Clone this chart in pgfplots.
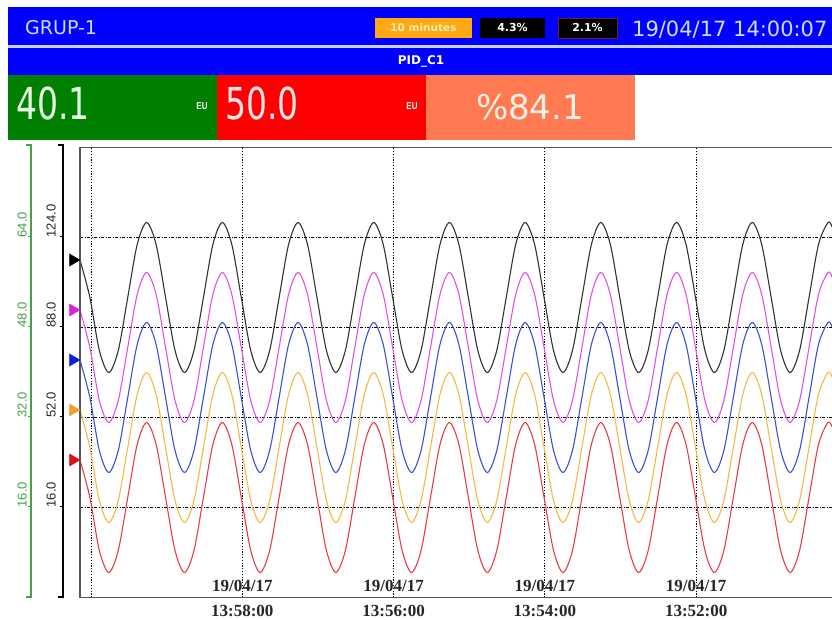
\documentclass[border=0pt]{standalone}
\usepackage{pgfplots}
\pgfplotsset{compat=1.18}
\usepackage{pgfplotstable}
\usepackage{graphicx}
\usepackage{fontspec}
\setmainfont{DejaVu Sans}
\newfontfamily\lsans{Liberation Sans}
\newfontfamily\lserif{Liberation Serif}
\definecolor{barblue}{RGB}{0,0,255}
\definecolor{sepblue}{RGB}{200,208,255}
\definecolor{boxgreen}{RGB}{0,128,0}
\definecolor{boxred}{RGB}{255,0,0}
\definecolor{boxcoral}{RGB}{255,122,80}
\definecolor{minorange}{RGB}{255,170,20}
\definecolor{hdrtext}{RGB}{205,220,255}
\definecolor{cblack}{RGB}{50,50,50}
\definecolor{cpink}{RGB}{228,80,228}
\definecolor{cblue}{RGB}{60,80,215}
\definecolor{corange}{RGB}{245,185,70}
\definecolor{cred}{RGB}{232,60,70}
\definecolor{axgreen}{RGB}{70,160,70}
\definecolor{framegray}{RGB}{85,85,85}

\pgfplotstableread{
x b p u o r
0 115 95 75 55 35
9.88 100 80 60 40 20
19.34 78.8 58.8 38.8 18.8 -1.2
28.8 70 50 30 10 -10
38.26 78.8 58.8 38.8 18.8 -1.2
47.73 100 80 60 40 20
57.19 121.2 101.2 81.2 61.2 41.2
66.65 130 110 90 70 50
76.11 121.2 101.2 81.2 61.2 41.2
85.58 100 80 60 40 20
95.04 78.8 58.8 38.8 18.8 -1.2
104.50 70 50 30 10 -10
113.96 78.8 58.8 38.8 18.8 -1.2
123.43 100 80 60 40 20
132.89 121.2 101.2 81.2 61.2 41.2
142.35 130 110 90 70 50
151.81 121.2 101.2 81.2 61.2 41.2
161.28 100 80 60 40 20
170.74 78.8 58.8 38.8 18.8 -1.2
180.20 70 50 30 10 -10
189.66 78.8 58.8 38.8 18.8 -1.2
199.13 100 80 60 40 20
208.59 121.2 101.2 81.2 61.2 41.2
218.05 130 110 90 70 50
227.51 121.2 101.2 81.2 61.2 41.2
236.98 100 80 60 40 20
246.44 78.8 58.8 38.8 18.8 -1.2
255.90 70 50 30 10 -10
265.36 78.8 58.8 38.8 18.8 -1.2
274.83 100 80 60 40 20
284.29 121.2 101.2 81.2 61.2 41.2
293.75 130 110 90 70 50
303.21 121.2 101.2 81.2 61.2 41.2
312.68 100 80 60 40 20
322.14 78.8 58.8 38.8 18.8 -1.2
331.60 70 50 30 10 -10
341.06 78.8 58.8 38.8 18.8 -1.2
350.53 100 80 60 40 20
359.99 121.2 101.2 81.2 61.2 41.2
369.45 130 110 90 70 50
378.91 121.2 101.2 81.2 61.2 41.2
388.38 100 80 60 40 20
397.84 78.8 58.8 38.8 18.8 -1.2
407.30 70 50 30 10 -10
416.76 78.8 58.8 38.8 18.8 -1.2
426.23 100 80 60 40 20
435.69 121.2 101.2 81.2 61.2 41.2
445.15 130 110 90 70 50
454.61 121.2 101.2 81.2 61.2 41.2
464.08 100 80 60 40 20
473.54 78.8 58.8 38.8 18.8 -1.2
483.00 70 50 30 10 -10
492.46 78.8 58.8 38.8 18.8 -1.2
501.93 100 80 60 40 20
511.39 121.2 101.2 81.2 61.2 41.2
520.85 130 110 90 70 50
530.31 121.2 101.2 81.2 61.2 41.2
539.78 100 80 60 40 20
549.24 78.8 58.8 38.8 18.8 -1.2
558.70 70 50 30 10 -10
568.16 78.8 58.8 38.8 18.8 -1.2
577.63 100 80 60 40 20
587.09 121.2 101.2 81.2 61.2 41.2
596.55 130 110 90 70 50
606.01 121.2 101.2 81.2 61.2 41.2
615.48 100 80 60 40 20
624.94 78.8 58.8 38.8 18.8 -1.2
634.40 70 50 30 10 -10
643.86 78.8 58.8 38.8 18.8 -1.2
653.33 100 80 60 40 20
662.79 121.2 101.2 81.2 61.2 41.2
672.25 130 110 90 70 50
681.71 121.2 101.2 81.2 61.2 41.2
691.18 100 80 60 40 20
700.64 78.8 58.8 38.8 18.8 -1.2
710.10 70 50 30 10 -10
719.56 78.8 58.8 38.8 18.8 -1.2
729.03 100 80 60 40 20
738.49 121.2 101.2 81.2 61.2 41.2
747.95 130 110 90 70 50
752 128.3 108.3 88.3 68.3 48.3
}\waves

\begin{document}
\begin{tikzpicture}
\path[use as bounding box] (0,0) rectangle (832pt,620pt);
\begin{scope}[x=1pt,y=1pt]
\fill[white] (0,0) rectangle (832,620);
% header bars
\fill[barblue] (8,575) rectangle (832,613);
\fill[sepblue] (8,572) rectangle (832,575);
\fill[barblue] (8,545) rectangle (832,572);
\fill[boxgreen] (8,480) rectangle (217,545);
\fill[boxred] (217,480) rectangle (426,545);
\fill[boxcoral] (426,480) rectangle (635,545);
\node[anchor=base west, inner sep=0, text=hdrtext, font=\fontsize{19}{19}\selectfont] at (25,585) {GRUP-1};
\fill[minorange] (375,582) rectangle (472,602);
\node[text={rgb,255:red,255;green,236;blue,170}, font=\bfseries\fontsize{10.5}{10.5}\selectfont, inner sep=0] at (423.5,592) {10 minutes};
\fill[black] (480,582) rectangle (545,602);
\node[text=white, font=\bfseries\fontsize{11}{11}\selectfont, inner sep=0] at (512.5,592) {4.3\%};
\filldraw[fill=black, draw={rgb,255:red,120;green,30;blue,40}, line width=0.8] (558,582) rectangle (617,602);
\node[text=white, font=\bfseries\fontsize{11}{11}\selectfont, inner sep=0] at (587.5,592) {2.1\%};
\node[anchor=base west, inner sep=0, text=hdrtext, font=\fontsize{21}{21}\selectfont] at (632,583) {19/04/17 14:00:07};
\node[text=white, font=\bfseries\fontsize{12}{12}\selectfont, inner sep=0] at (421,559) {PID\_C1};
% value boxes
\node[anchor=base west, inner sep=0, text={rgb,255:red,230;green,255;blue,230}] at (16,500) {\scalebox{0.75}[1]{\fontsize{44}{44}\selectfont 40.1}};
\node[text=white, font=\lsans\bfseries\fontsize{10}{10}\selectfont, inner sep=0] at (202,514) {\scalebox{0.8}[1]{EU}};
\node[anchor=base west, inner sep=0, text={rgb,255:red,255;green,230;blue,230}] at (225,500) {\scalebox{0.75}[1]{\fontsize{44}{44}\selectfont 50.0}};
\node[text=white, font=\lsans\bfseries\fontsize{10}{10}\selectfont, inner sep=0] at (412,514) {\scalebox{0.8}[1]{EU}};
\node[anchor=base, inner sep=0, text={rgb,255:red,255;green,240;blue,232}, font=\fontsize{34}{34}\selectfont] at (530,500) {\%84.1};
% scale brackets
\draw[black, line width=1.3] (58,475) -- (63,475) -- (63,23) -- (58,23);
\foreach \yy in {383,293,203,113} \draw[black, line width=1] (60,\yy) -- (63,\yy);
\draw[axgreen, line width=1.6] (26,475) -- (31,475) -- (31,23) -- (26,23);
\foreach \yy in {383,293,203,113} \draw[axgreen, line width=1] (28,\yy) -- (31,\yy);
\end{scope}

\begin{axis}[
  at={(80pt,22.5pt)}, anchor=south west,
  scale only axis, width=752pt, height=450pt,
  xmin=0, xmax=752, ymin=-20, ymax=160,
  clip=false,
  axis line style={draw=none},
  major tick length=0pt,
  xtick={11,162.3,313.6,464.9,616.2},
  xticklabels={{},13:58:00,13:56:00,13:54:00,13:52:00},
  extra x ticks={162.3,313.6,464.9,616.2},
  extra x tick labels={19/04/17,19/04/17,19/04/17,19/04/17},
  extra x tick style={grid=none, xticklabel style={yshift=25pt}},
  ytick={16,52,88,124},
  yticklabels={16.0,52.0,88.0,124.0},
  xmajorgrids, ymajorgrids,
  x grid style={black, line width=0.9pt, dash pattern=on 1.2pt off 1.6pt},
  y grid style={black, line width=0.8pt, dash pattern=on 3pt off 1.5pt on 1pt off 1.5pt},
  xticklabel style={font=\lserif\bfseries\fontsize{17}{17}\selectfont, text=black!85, anchor=center, inner sep=0pt, yshift=-13pt},
  yticklabel style={font=\lsans\fontsize{13}{13}\selectfont, text=black!85, inner sep=0pt, xshift=-24pt, rotate=90, anchor=south west},
]
\addplot[cred, line width=1.1pt, smooth] table[x=x,y=r]{\waves};
\addplot[corange, line width=1.1pt, smooth] table[x=x,y=o]{\waves};
\addplot[cblue, line width=1.1pt, smooth] table[x=x,y=u]{\waves};
\addplot[cpink, line width=1.1pt, smooth] table[x=x,y=p]{\waves};
\addplot[cblack, line width=1.1pt, smooth] table[x=x,y=b]{\waves};
\addplot[only marks, mark=triangle*, mark size=7pt, mark options={rotate=-90, fill=black, draw=black}] coordinates {(-7,115)};
\addplot[only marks, mark=triangle*, mark size=7pt, mark options={rotate=-90, fill={rgb,255:red,224;green,32;blue,208}, draw={rgb,255:red,224;green,32;blue,208}}] coordinates {(-7,95)};
\addplot[only marks, mark=triangle*, mark size=7pt, mark options={rotate=-90, fill={rgb,255:red,16;green,32;blue,208}, draw={rgb,255:red,16;green,32;blue,208}}] coordinates {(-7,75)};
\addplot[only marks, mark=triangle*, mark size=7pt, mark options={rotate=-90, fill={rgb,255:red,240;green,160;blue,48}, draw={rgb,255:red,240;green,160;blue,48}}] coordinates {(-7,55)};
\addplot[only marks, mark=triangle*, mark size=7pt, mark options={rotate=-90, fill={rgb,255:red,224;green,16;blue,16}, draw={rgb,255:red,224;green,16;blue,16}}] coordinates {(-7,35)};
\draw[framegray, line width=1.6pt] (rel axis cs:1,1) -- (rel axis cs:0,1) -- (rel axis cs:0,0) -- (rel axis cs:1,0);
\end{axis}

\begin{axis}[
  at={(80pt,22.5pt)}, anchor=south west,
  scale only axis, width=752pt, height=450pt,
  xmin=0, xmax=752, ymin=0, ymax=80,
  axis line style={draw=none}, major tick length=0pt,
  xtick=\empty,
  ytick={16,32,48,64}, yticklabels={16.0,32.0,48.0,64.0},
  yticklabel style={font=\lsans\fontsize{13}{13}\selectfont, text=axgreen, inner sep=0pt, xshift=-53pt, rotate=90, anchor=south west},
]
\addplot[draw=none] coordinates {(0,0)};
\end{axis}
\end{tikzpicture}
\end{document}
